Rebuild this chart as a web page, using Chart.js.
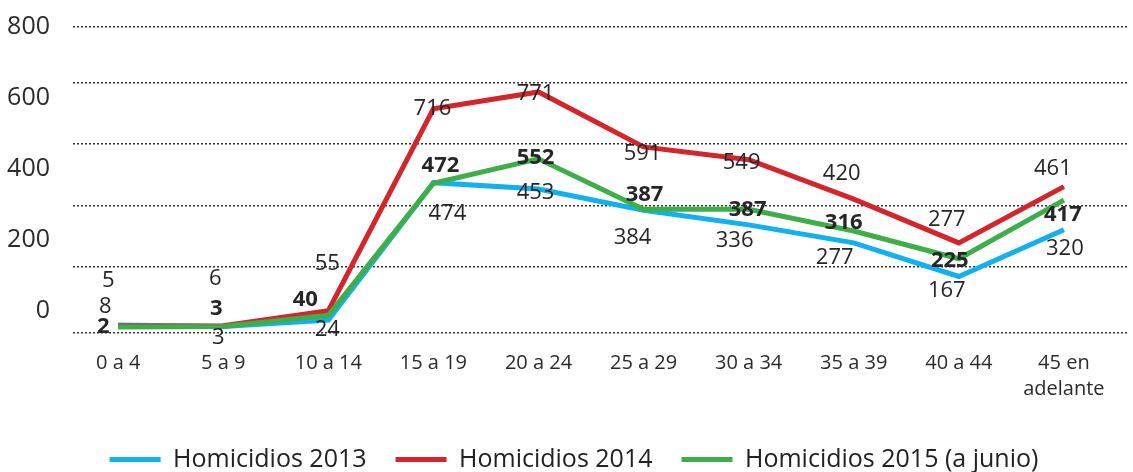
<!DOCTYPE html>
<html><head><meta charset="utf-8">
<script src="https://cdn.jsdelivr.net/npm/chart.js@4.4.1/dist/chart.umd.min.js"></script>
<style>html,body{margin:0;padding:0;background:#fff}#wrap{width:1133px;height:472px;position:relative}</style>
</head><body><div id="wrap"><canvas id="c"></canvas></div>
<script>
// ---- data ----
const categories = ['0 a 4','5 a 9','10 a 14','15 a 19','20 a 24','25 a 29','30 a 34','35 a 39','40 a 44',['45 en','adelante']];
const homicidios2013 = [8,3,24,474,453,384,336,277,167,320];
const homicidios2014 = [5,6,55,716,771,591,549,420,277,461];
const homicidios2015 = [2,3,40,472,552,387,387,316,225,417];
const yTickLabels = [0,200,400,600,800];
const gridValues = [200,400,600,800];
const seriesNames = ['Homicidios 2013','Homicidios 2014','Homicidios 2015 (a junio)'];

// ---- label placement (pixel offsets from each point) ----
const labelOffsets = [
  [[-13,-18],[-5,11],[-1,10],[14,31],[-3,4],[-11,28],[-14,16],[-19,15],[-12,14],[1,19]],
  [[-10,-45],[-8,-47],[-1,-47],[-1,0],[-3,2],[-1,7],[-7,3],[-12,-25],[-12,-23],[-11,-18]],
  [[-15,0],[-7,-18],[-23,-16],[7,-18],[-3,-1],[1,-15],[-1,0],[-10,-8],[-9,2],[-1,15]]
];
const labelBold = [false,false,true];

const FONT = "'Open Sans', 'Noto Sans', sans-serif";
Chart.defaults.font.family = FONT;
Chart.defaults.color = '#2b2b2b';

const PAD = {left:0, right:5, top:27, bottom:-10};
const AREA_BOTTOM = 333, AREA_LEFT = 73, LABEL_RIGHT = 50;
const Y_MIN = -18, Y_MAX = 983.6;

const toXY = arr => arr.map((v,i)=>({x:i,y:v}));

const dataLabels = {
  id:'dataLabels',
  afterLayout(chart){
    if (chart.legend) { chart.legend.left += 10; chart.legend.right += 10; }
  },
  afterDatasetsDraw(chart){
    const ctx = chart.ctx;
    chart.data.datasets.forEach((ds,di)=>{
      const meta = chart.getDatasetMeta(di);
      ctx.save();
      ctx.font = (labelBold[di] ? 'bold ' : '') + '22px ' + FONT;
      ctx.fillStyle = '#262626';
      ctx.textAlign = 'center';
      ctx.textBaseline = 'middle';
      meta.data.forEach((el,i)=>{
        const o = labelOffsets[di][i];
        ctx.fillText(String(ds.data[i].y), el.x + o[0], el.y + o[1]);
      });
      ctx.restore();
    });
  }
};

new Chart(document.getElementById('c'), {
  type:'line',
  data:{
    datasets:[
      {label:seriesNames[0], data:toXY(homicidios2013), borderColor:'#12b0ec', backgroundColor:'#12b0ec', order:2},
      {label:seriesNames[1], data:toXY(homicidios2014), borderColor:'#d3252c', backgroundColor:'#d3252c', order:1},
      {label:seriesNames[2], data:toXY(homicidios2015), borderColor:'#3fad4a', backgroundColor:'#3fad4a', order:0}
    ]
  },
  options:{
    responsive:true, maintainAspectRatio:false, animation:false,
    layout:{padding:PAD},
    elements:{line:{borderWidth:5, tension:0, fill:false}, point:{radius:0, hoverRadius:0}},
    plugins:{
      tooltip:{enabled:false},
      legend:{
        position:'bottom',
        labels:{
          font:{size:25, family:FONT}, color:'#222',
          boxWidth:51, boxHeight:5, padding:29,
          generateLabels(chart){
            return chart.data.datasets.map((ds,i)=>({text:ds.label, fillStyle:ds.borderColor, strokeStyle:ds.borderColor, lineWidth:0, datasetIndex:i, hidden:false, fontColor:'#222'}));
          }
        }
      }
    },
    scales:{
      x:{
        type:'linear', min:-0.43, max:9.61,
        afterBuildTicks:s=>{ s.ticks = categories.map((c,i)=>({value:i})); },
        afterFit:s=>{ const lg = s.chart.legend; s.height = s.chart.height - PAD.bottom - (lg ? lg.height : 0) - AREA_BOTTOM; },
        grid:{display:false, drawTicks:false}, border:{display:false},
        ticks:{autoSkip:false, maxRotation:0, padding:17, font:{size:20, lineHeight:1.3}, color:'#2b2b2b',
          callback:(v)=>categories[v]}
      },
      y:{
        position:'left', min:Y_MIN, max:Y_MAX, weight:0,
        afterBuildTicks:s=>{ s.ticks = [Y_MIN].concat(gridValues, [Y_MAX]).map(v=>({value:v})); },
        afterFit:s=>{ s.width = AREA_LEFT - LABEL_RIGHT; },
        ticks:{display:false, padding:0},
        grid:{color:'#333', lineWidth:1.5, drawTicks:false},
        border:{display:false, dash:[2,2]}
      },
      yl:{
        position:'left', min:-62, max:800, weight:1,
        afterBuildTicks:s=>{ s.ticks = yTickLabels.map(v=>({value:v})); },
        afterFit:s=>{ s.width = LABEL_RIGHT - PAD.left; },
        grid:{display:false, drawTicks:false}, border:{display:false},
        ticks:{padding:0, font:{size:25}, color:'#2b2b2b'}
      }
    }
  },
  plugins:[dataLabels]
});
</script></body></html>
